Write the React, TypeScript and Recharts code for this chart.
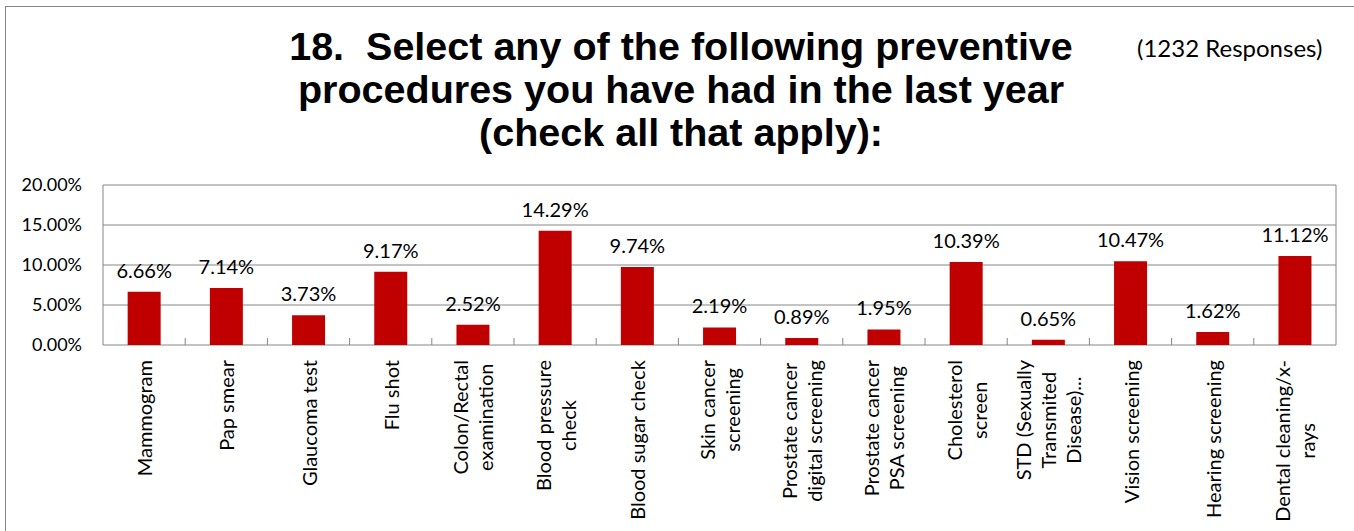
import React from 'react';
import { BarChart, Bar, XAxis, YAxis, CartesianGrid, LabelList } from 'recharts';

const categories = [
  'Mammogram',
  'Pap smear',
  'Glaucoma test',
  'Flu shot',
  'Colon/Rectal\nexamination',
  'Blood pressure\ncheck',
  'Blood sugar check',
  'Skin cancer\nscreening',
  'Prostate cancer\ndigital screening',
  'Prostate cancer\nPSA screening',
  'Cholesterol\nscreen',
  'STD (Sexually\nTransmited\nDisease)...',
  'Vision screening',
  'Hearing screening',
  'Dental cleaning/x-\nrays',
];
const values = [6.66, 7.14, 3.73, 9.17, 2.52, 14.29, 9.74, 2.19, 0.89, 1.95, 10.39, 0.65, 10.47, 1.62, 11.12];
const yTicks = [0, 5, 10, 15, 20];
const titleLines = [
  '18.  Select any of the following preventive',
  'procedures you have had in the last year',
  '(check all that apply):',
];
const responsesText = '(1232 Responses)';

const data = categories.map((c, i) => ({ name: c, value: values[i] }));

const W = 1354;
const H = 531;
const MARGIN = { top: 185, right: 18, bottom: 0, left: 3 };
const YW = 100;
const XH = 186;
const PLOT_W = W - MARGIN.left - MARGIN.right - YW;
const BAND = PLOT_W / categories.length;
const GRID = '#868686';
const BAR = '#C00000';
const FONT = 'Lato';
const LABEL_FS = 20;
const TICK_FS = 18;
const VALUE_FS = 20;
const LINE_H = 25;
const LABEL_GAP = 15;

let ctx: CanvasRenderingContext2D | null = null;
const measure = (s: string) => {
  if (!ctx) {
    const c = document.createElement('canvas');
    ctx = c.getContext('2d');
  }
  if (!ctx) return s.length * LABEL_FS * 0.5;
  ctx.font = `${LABEL_FS}px ${FONT}`;
  return ctx.measureText(s).width;
};

const XTick = (props: any) => {
  const { x, y, payload, index } = props;
  const lines = String(payload.value).split('\n');
  const maxW = Math.max(...lines.map(measure));
  const cy = y + LABEL_GAP + maxW / 2;
  const n = lines.length;
  return (
    <g>
      {index < categories.length - 1 && (
        <line x1={x + BAND / 2} x2={x + BAND / 2} y1={y} y2={y - 7} stroke={GRID} strokeWidth={1} />
      )}
      {lines.map((l, i) => (
        <text
          key={i}
          transform={`translate(${x + (i - (n - 1) / 2) * LINE_H}, ${cy}) rotate(-90)`}
          textAnchor="middle"
          dominantBaseline="central"
          fontFamily={FONT}
          fontSize={LABEL_FS}
          fill="#000"
        >
          {l}
        </text>
      ))}
    </g>
  );
};

export default function App() {
  return (
    <div style={{ position: 'absolute', left: 0, top: 0, width: W, height: H, overflow: 'hidden', background: '#fff' }}>
      <div
        style={{
          position: 'absolute',
          left: 5,
          top: 6,
          width: W + 20,
          height: H + 20,
          borderLeft: `1.5px solid ${GRID}`,
          borderTop: `1.5px solid ${GRID}`,
        }}
      />
      <div style={{ position: 'absolute', left: 0, top: 0 }}>
        <BarChart width={W} height={H} data={data} margin={MARGIN} barCategoryGap="30%">
          <CartesianGrid
            stroke={GRID}
            strokeWidth={1}
            vertical={true}
            verticalCoordinatesGenerator={({ offset }: any) => [offset.left, offset.left + offset.width]}
          />
          <XAxis
            dataKey="name"
            height={XH}
            interval={0}
            axisLine={false}
            tickLine={false}
            tickSize={0}
            tickMargin={0}
            tick={<XTick />}
          />
          <YAxis
            width={YW}
            domain={[0, 20]}
            ticks={yTicks}
            axisLine={false}
            tickLine={false}
            tickSize={0}
            tickMargin={21}
            tickFormatter={(v: number) => `${v.toFixed(2)}%`}
            tick={{ fill: '#000', fontFamily: FONT, fontSize: TICK_FS }}
          />
          <Bar dataKey="value" fill={BAR} isAnimationActive={false}>
            <LabelList
              dataKey="value"
              position="top"
              offset={14}
              formatter={(v: any) => `${Number(v).toFixed(2)}%`}
              style={{ fill: '#000', fontFamily: FONT, fontSize: VALUE_FS }}
            />
          </Bar>
        </BarChart>
      </div>
      <svg width={W} height={H} style={{ position: 'absolute', left: 0, top: 0, pointerEvents: 'none' }}>
        {titleLines.map((t, i) => (
          <text
            key={i}
            x={681}
            y={60 + i * 43}
            textAnchor="middle"
            fontFamily="Liberation Sans"
            fontWeight="bold"
            fontSize={39.5}
            fill="#000"
            style={{ whiteSpace: 'pre' }}
          >
            {t}
          </text>
        ))}
        <text x={1137} y={57} fontFamily={FONT} fontSize={24} fill="#000">
          {responsesText}
        </text>
      </svg>
    </div>
  );
}
